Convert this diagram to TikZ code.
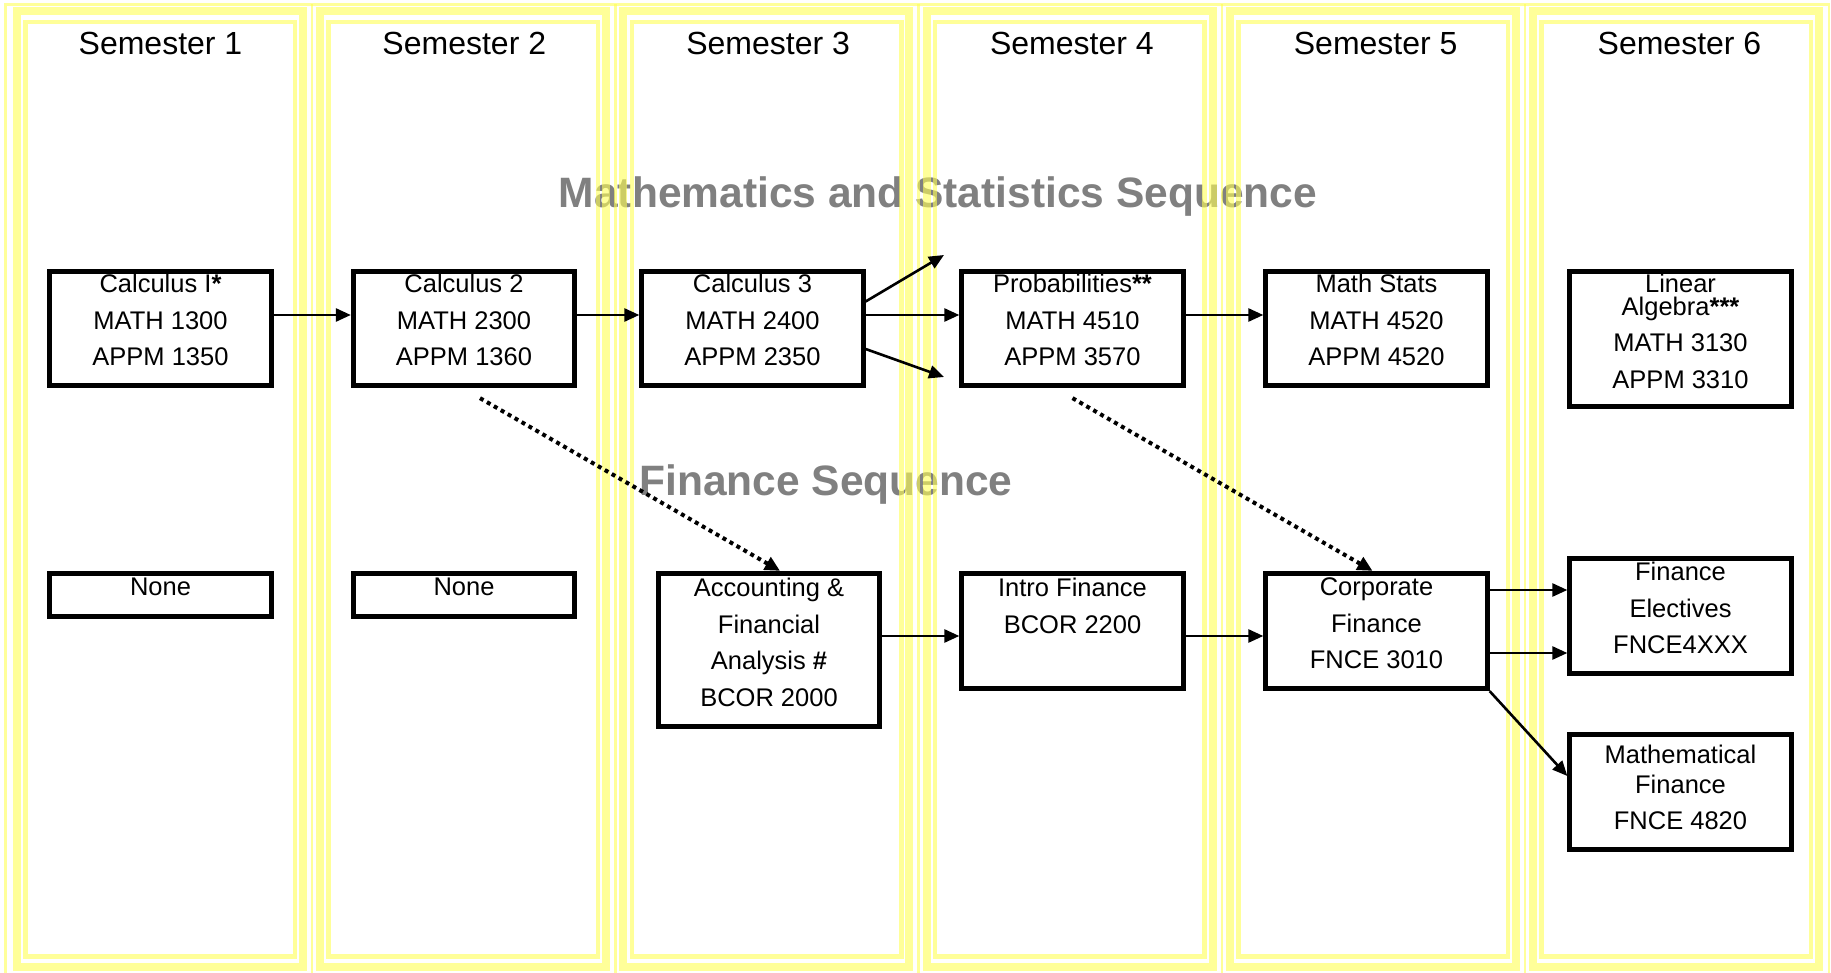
\documentclass[tikz,border=0pt]{standalone}
\usepackage{fontspec}
\setmainfont{Liberation Sans}
\usetikzlibrary{arrows.meta,calc}
\definecolor{yel}{RGB}{255,255,85}
\definecolor{ttlgray}{RGB}{128,128,128}
\begin{document}
\begin{tikzpicture}[x=1pt,y=-1pt,
  box/.style={draw=black, line width=4.8pt, fill=white, minimum width=221.5pt, inner sep=0pt},
  txt/.style={align=center, inner sep=0pt, font=\fontsize{25.5}{36.5}\selectfont, anchor=north},
  semtxt/.style={font=\fontsize{32}{38}\selectfont, inner sep=0pt},
  seqtxt/.style={font=\fontsize{42.5}{50}\selectfont\bfseries, text=ttlgray, inner sep=0pt, anchor=base},
  arr/.style={line width=2.6pt, -{Triangle[length=15pt,width=13pt]}},
  dotarr/.style={line width=4pt, dash pattern=on 4pt off 4pt, -{Triangle[length=15pt,width=14pt]}},
  thickband/.style={draw=yel, draw opacity=0.6, line width=8pt},
  thinband/.style={draw=yel, draw opacity=0.6, line width=4.5pt},
  gridline/.style={draw=yel, draw opacity=0.6, line width=2.5pt}
]
\useasboundingbox (0,0) rectangle (1831,973);
\fill[white] (0,0) rectangle (1831,973);

% sequence titles (under the yellow frames)
\node[seqtxt] (mathseq) at (938,208) {Mathematics and Statistics Sequence};
\node[seqtxt] (finseq) at (826,495) {Finance Sequence};

% yellow column frames
\draw[gridline] (5.5,973) -- (5.5,4.5) -- (1829,4.5) -- (1829,973);
\foreach \k in {0,...,5}{
  \pgfmathsetmacro\xo{5+303.2*\k}
  \draw[thickband] (\xo+12,11.5) rectangle (\xo+298,966.5);
  \draw[thinband] (\xo+20.5,22) rectangle (\xo+290,956.5);
}
\foreach \k in {1,...,5}{
  \pgfmathsetmacro\xo{5+303.2*\k}
  \draw[gridline] (\xo+4,4.5) -- (\xo+4,973);
}

% semester headings
\node[semtxt] (s1) at (160.5,43.5) {Semester 1};
\node[semtxt] (s2) at (464.3,43.5) {Semester 2};
\node[semtxt] (s3) at (768.1,43.5) {Semester 3};
\node[semtxt] (s4) at (1071.9,43.5) {Semester 4};
\node[semtxt] (s5) at (1375.7,43.5) {Semester 5};
\node[semtxt] (s6) at (1679.5,43.5) {Semester 6};

% math boxes
\node[box, minimum height=114.5pt] (calc1) at (160.5,328.5) {};
\node[box, minimum height=114.5pt] (calc2) at (464,328.5) {};
\node[box, minimum height=114.5pt] (calc3) at (752.5,328.5) {};
\node[box, minimum height=114.5pt] (prob) at (1072.5,328.5) {};
\node[box, minimum height=114.5pt] (mstat) at (1376.5,328.5) {};
\node[box, minimum height=135.5pt] (linalg) at (1680.5,339) {};

\node[txt] (tcalc1) at ([yshift=-5pt]calc1.north) {Calculus I\textbf{*}\\MATH 1300\\APPM 1350};
\node[txt] (tcalc2) at ([yshift=-5pt]calc2.north) {Calculus 2\\MATH 2300\\APPM 1360};
\node[txt] (tcalc3) at ([yshift=-5pt]calc3.north) {Calculus 3\\MATH 2400\\APPM 2350};
\node[txt] (tprob) at ([yshift=-5pt]prob.north) {Probabilities\textbf{**}\\MATH 4510\\APPM 3570};
\node[txt] (tmstat) at ([yshift=-5pt]mstat.north) {Math Stats\\MATH 4520\\APPM 4520};
\node[txt] (tlinalg) at ([yshift=-5pt]linalg.north) {Linear\\[-14pt]Algebra\textbf{***}\\MATH 3130\\APPM 3310};

% finance boxes
\node[box, minimum height=43.5pt] (none1) at (160.5,595) {};
\node[box, minimum height=43.5pt] (none2) at (464,595) {};
\node[box, minimum height=153.5pt] (acct) at (769,650) {};
\node[box, minimum height=115.5pt] (intro) at (1072.5,631) {};
\node[box, minimum height=115.5pt] (corp) at (1376.5,631) {};
\node[box, minimum height=115.5pt] (elect) at (1680.5,616) {};
\node[box, minimum height=115.5pt] (mfin) at (1680.5,792) {};

\node[txt] (tnone1) at ([yshift=-7pt]none1.north) {None};
\node[txt] (tnone2) at ([yshift=-7pt]none2.north) {None};
\node[txt] (tacct) at ([yshift=-7pt]acct.north) {Accounting \&\\Financial\\Analysis \textbf{\#}\\BCOR 2000};
\node[txt] (tintro) at ([yshift=-7pt]intro.north) {Intro Finance\\BCOR 2200};
\node[txt] (tcorp) at ([yshift=-7pt]corp.north) {Corporate\\Finance\\FNCE 3010};
\node[txt] (telect) at ([yshift=-6pt]elect.north) {Finance\\Electives\\FNCE4XXX};
\node[txt] (tmfin) at ([yshift=-13pt]mfin.north) {Mathematical\\[-7pt]Finance\\FNCE 4820};

% free ends of the branching arrows
\coordinate (up) at (944,255);
\coordinate (dn) at (944,377);

% solid arrows
\draw[arr] ([yshift=13.5pt]calc1.east) -- ([yshift=13.5pt]calc2.west);
\draw[arr] ([yshift=13.5pt]calc2.east) -- ([yshift=13.5pt]calc3.west);
\draw[arr] ([yshift=13.5pt]calc3.east) -- ([yshift=13.5pt]prob.west);
\draw[arr] ([yshift=27pt]calc3.east) -- (up);
\draw[arr] ([yshift=-20.5pt]calc3.east) -- (dn);
\draw[arr] ([yshift=13.5pt]prob.east) -- ([yshift=13.5pt]mstat.west);
\draw[arr] ([yshift=14pt]acct.east) -- ([yshift=14pt]acct.east -| intro.west);
\draw[arr] ([yshift=-5pt]intro.east) -- ([yshift=-5pt]corp.west);
\draw[arr] ([yshift=41pt]corp.east) -- ([yshift=41pt]corp.east -| elect.west);
\draw[arr] ([yshift=-22pt]corp.east) -- ([yshift=-22pt]corp.east -| elect.west);
\draw[arr] (corp.south east) -- ([yshift=16pt]mfin.west);

% dotted arrows
\draw[dotarr] ([xshift=16pt,yshift=-10pt]calc2.south) -- ([xshift=11pt]acct.north);
\draw[dotarr] ([yshift=-10pt]prob.south) -- ([xshift=-4pt]corp.north);
\end{tikzpicture}
\end{document}
